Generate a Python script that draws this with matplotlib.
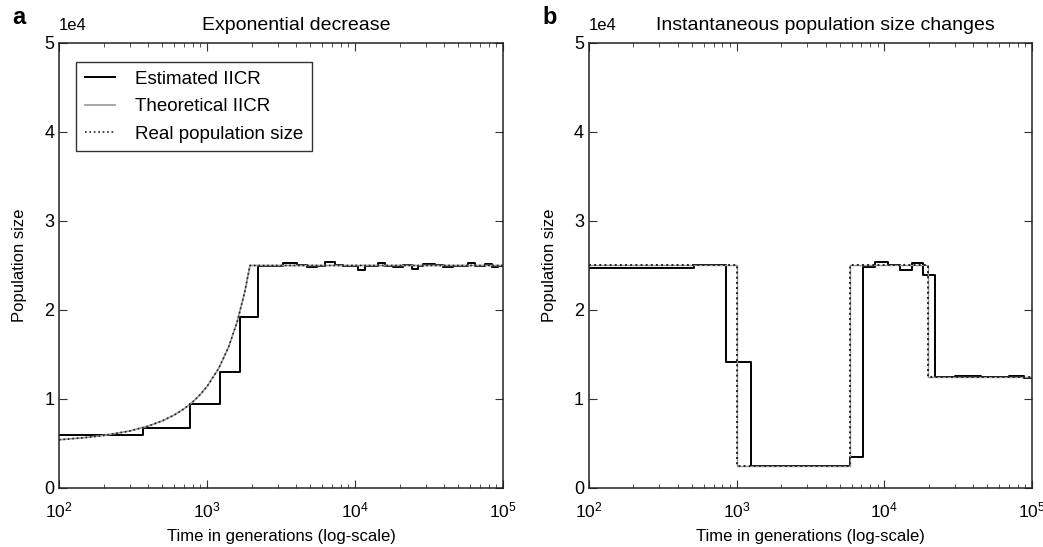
import matplotlib
matplotlib.use("Agg")
import matplotlib.pyplot as plt
import numpy as np
from matplotlib.ticker import LogLocator, NullFormatter, FuncFormatter

plt.rcParams['font.family'] = ['Liberation Sans', 'DejaVu Sans']
plt.rcParams['mathtext.fontset'] = 'custom'
plt.rcParams['mathtext.rm'] = 'Liberation Sans'
plt.rcParams['mathtext.it'] = 'Liberation Sans:italic'

# ---------------- Panel a: exponential decrease ----------------
a_est_t = [100, 367, 767, 1218, 1663, 2213, 3277, 4035, 4713, 5508, 6270, 7325,
           8340, 10540, 11690, 14380, 15950, 18160, 21210, 24170, 26790, 28960,
           34750, 39550, 46170, 58300, 64700, 75600, 83900, 92900]
a_est_n = [5950, 6780, 9400, 13000, 19200, 24950, 25300, 25000, 24800, 24950, 25400, 25000,
           24900, 24500, 24900, 25250, 24900, 24850, 25000, 24650, 24950, 25200,
           25000, 24850, 24900, 25300, 24950, 25200, 24850, 24950]

a_real_t = [100, 150, 200, 300, 400, 500, 600, 700, 800, 900, 1000, 1200, 1400,
            1600, 1800, 1950, 100000]
a_real_n = [5420, 5660, 5900, 6400, 6950, 7550, 8200, 8900, 9670, 10500, 11400, 13450,
            15850, 18700, 22050, 25000, 25000]

# ---------------- Panel b: instantaneous changes ----------------
b_est_t = [100, 514, 847, 1245, 5850, 7130, 8630, 10620, 12770, 15300, 18340, 22030,
           30000, 45000, 70000, 88000]
b_est_n = [24700, 25100, 14200, 2500, 3500, 24800, 25400, 25100, 24500, 25250, 23900, 12500,
           12550, 12450, 12550, 12350]

b_real_t = [100, 1000, 5900, 19800]
b_real_n = [25000, 2500, 25000, 12500]

x_end = 100000

titles = ["Exponential decrease", "Instantaneous population size changes"]
panel_letters = ["a", "b"]

fig = plt.figure(figsize=(10.43, 5.47), dpi=100)
ax_a = fig.add_axes([0.0566, 0.1079, 0.4257, 0.8135])
ax_b = fig.add_axes([0.5647, 0.1079, 0.4247, 0.8135])


def step_xy(t, n):
    return list(t) + [x_end], list(n) + [n[-1]]


# panel a
x, y = step_xy(a_est_t, a_est_n)
ax_a.step(x, y, where='post', color='black', lw=1.4, label='Estimated IICR')
ax_a.plot(a_real_t, a_real_n, color='#999999', lw=1.2, label='Theoretical IICR')
ax_a.plot(a_real_t, a_real_n, color='#222222', lw=1.2, ls=':', label='Real population size')

# panel b
x, y = step_xy(b_est_t, b_est_n)
ax_b.step(x, y, where='post', color='black', lw=1.4)
x, y = step_xy(b_real_t, b_real_n)
ax_b.step(x, y, where='post', color='#999999', lw=1.0)
ax_b.step(x, y, where='post', color='#222222', lw=1.4, ls=':')

for ax, title, letter in zip([ax_a, ax_b], titles, panel_letters):
    ax.set_xscale('log')
    ax.set_xlim(100, 100000)
    ax.set_ylim(0, 50000)
    ax.set_yticks([0, 10000, 20000, 30000, 40000, 50000])
    ax.yaxis.set_major_formatter(FuncFormatter(lambda v, p: '%d' % round(v / 1e4)))
    ax.text(0.0, 1.022, '1e4', transform=ax.transAxes, fontsize=12,
            ha='left', va='bottom')
    ax.xaxis.set_major_locator(LogLocator(base=10, numticks=10))
    ax.xaxis.set_minor_locator(LogLocator(base=10, subs=np.arange(2, 10), numticks=10))
    ax.xaxis.set_minor_formatter(NullFormatter())
    ax.tick_params(which='major', direction='in', top=True, right=True, length=6,
                   labelsize=13, color='#333333')
    ax.tick_params(which='minor', direction='in', top=True, right=True, length=3,
                   color='#333333')
    ax.tick_params(axis='x', which='major', pad=9, labelsize=12.5)
    for s in ax.spines.values():
        s.set_linewidth(1.1)
        s.set_color('#222222')
    ax.set_title(title, fontsize=14, pad=9, x=0.534)
    ax.set_xlabel('Time in generations (log-scale)', fontsize=12, labelpad=6)
    ax.set_ylabel('Population size', fontsize=12, labelpad=12)

fig.text(0.012, 0.968, 'a', fontsize=17, fontweight='bold', va='center', ha='left')
fig.text(0.520, 0.968, 'b', fontsize=17, fontweight='bold', va='center', ha='left')

leg = ax_a.legend(loc='upper left', fontsize=13.5, frameon=True, fancybox=False,
                  edgecolor='black', handlelength=1.6, borderpad=0.45,
                  labelspacing=0.55, handletextpad=1.1,
                  bbox_to_anchor=(0.018, 0.978))
leg.get_frame().set_linewidth(1.0)

fig.savefig('out.png', dpi=100)
